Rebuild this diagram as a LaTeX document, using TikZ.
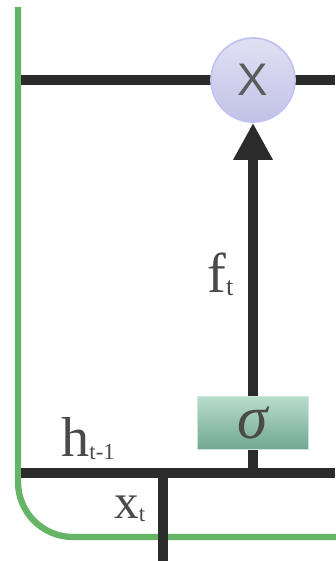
\documentclass[tikz,border=0pt]{standalone}
\usepackage{fontspec}
\setmainfont{Liberation Serif}
\newfontfamily\gatefont{Liberation Sans}
\usetikzlibrary{arrows.meta}
\definecolor{wire}{HTML}{2B2B2B}
\definecolor{cellgreen}{HTML}{66B466}
\definecolor{gatetop}{HTML}{B8DCCB}
\definecolor{gatebot}{HTML}{70A890}
\definecolor{multtop}{HTML}{E0E0F4}
\definecolor{multbot}{HTML}{C2C2E6}
\definecolor{txtgray}{HTML}{4A4A4A}
\newcommand{\sublbl}[4]{{\fontsize{#1}{#1}\selectfont #2}\raisebox{-2.2pt}{\fontsize{#3}{#3}\selectfont #4}}
\begin{document}
\begin{tikzpicture}[x=0.02cm,y=-0.02cm,
  wireline/.style={wire,line width=5.67pt},
  every node/.style={inner sep=0pt,text=txtgray}]
  \fill[white] (0,0) rectangle (335,561);
  \useasboundingbox (0,0) rectangle (335,561);
  % cell border
  \draw[cellgreen,line width=3.6pt,rounded corners=1.1cm] (18,7) -- (18,537) -- (340,537);
  % points on the wires
  \coordinate (tl) at (21,80);
  \coordinate (tr) at (335,80);
  \coordinate (bl) at (21,473);
  \coordinate (br) at (335,473);
  \coordinate (xin) at (163,561);
  \coordinate (xj) at (163,473);
  \coordinate (sj) at (253,473);
  \draw[wireline] (tl) -- (tr);
  \draw[wireline] (bl) -- (br);
  \draw[wireline] (xin) -- (xj);
  \node[draw=multbot!80!blue!60,line width=1pt,circle,minimum size=1.68cm,
        top color=multtop,bottom color=multbot] (mult) at (253,80)
        {\gatefont\fontsize{26}{26}\selectfont\color{txtgray!90}X};
  \node[draw=gatetop!70!white,line width=0.8pt,minimum width=2.22cm,minimum height=1.06cm,
        top color=gatetop,bottom color=gatebot] (sig) at (253,423)
        {\fontsize{35}{35}\selectfont\itshape σ};
  \draw[wireline] (sj) -- (sig.south);
  \draw[wireline,-{Triangle[length=21pt,width=21pt]}] (sig.north) -- (mult.south);
  % labels
  \node[anchor=base west] (hlbl) at (61,456) {\sublbl{32}{h}{13}{t-1}};
  \node[anchor=base west] (flbl) at (207,292) {\sublbl{32}{f}{15}{t}};
  \node[anchor=base west] (xlbl) at (114,518) {\sublbl{28}{x}{13}{t}};
\end{tikzpicture}
\end{document}
